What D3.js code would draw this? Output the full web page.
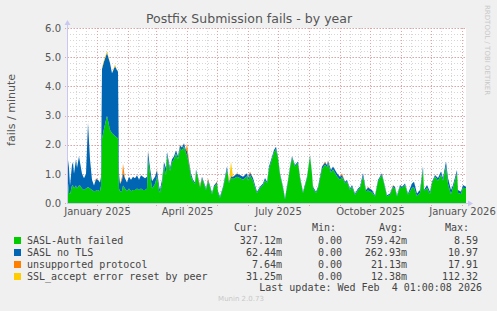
<!DOCTYPE html>
<html>
<head>
<meta charset="utf-8">
<script src="https://cdn.jsdelivr.net/npm/d3@7"></script>
<style>
  body { margin: 0; background: #f0f0f0; }
  svg { display: block; }
</style>
</head>
<body>
<div id="chart"></div>
<script>
// days since the first sample (2 Dec 2024)
var dayIndex = [0,2,3,5,6,7,9,10,12,13,15,17,19,21,23,25,27,29,31,33,34,35,37,40,43,45,48,50,51,52,
  53,55,56,58,60,62,64,66,68,70,72,74,76,78,80,81,83,85,88,90,92,93,95,97,99,100,103,105,107,109,
  111,113,115,117,119,120,122,124,126,128,129,131,133,135,137,139,141,143,145,147,150,151,153,156,160,162,164,166,170,173,
  176,180,181,183,186,188,190,193,196,198,200,202,205,207,209,211,213,216,218,221,223,225,228,231,233,236,240,243,245,246,
  249,251,255,258,260,261,264,266,270,273,275,278,280,283,285,288,291,293,296,299,301,305,308,311,315,316,320,323,326,328,
  330,333,335,338,341,345,347,350,353,356,357,360,363,365,368,371,374,376,379,381,384,386,390,391,394,396,399];

var saslAuth = [1.0,0.35,0.3,0.6,0.6,0.5,0.6,0.5,0.6,0.6,0.5,0.45,0.5,0.55,0.5,0.45,0.4,0.42,0.45,0.4,0.6,2.2,2.55,3.0,2.5,2.4,2.3,2.25,2.2,0.5,
  0.4,0.4,0.6,0.5,0.4,0.5,0.4,0.45,0.45,0.5,0.45,0.5,0.45,0.45,0.5,1.52,1.0,0.5,0.65,0.92,0.45,0.35,0.65,1.3,0.95,1.65,1.1,1.4,1.5,1.7,
  1.5,1.87,1.8,1.95,1.7,1.65,1.3,0.9,0.75,0.65,1.1,0.85,0.52,0.85,0.65,0.45,0.75,0.55,0.3,0.55,0.67,0.35,0.17,0.51,1.15,0.68,0.87,0.82,0.9,0.86,
  0.8,0.92,0.76,0.95,0.76,0.54,0.34,0.51,0.62,0.78,0.68,1.17,1.51,1.74,1.85,1.51,0.97,0.51,0.12,0.74,1.2,1.55,1.25,1.37,0.85,0.34,0.85,1.6,0.97,0.51,
  0.34,0.51,1.17,1.31,1.22,1.36,1.05,1.15,0.92,0.8,0.89,0.68,0.74,0.45,0.57,0.28,0.45,0.51,0.92,0.4,0.43,0.37,0.22,0.74,0.97,0.81,0.22,0.28,0.54,0.51,
  0.22,0.57,0.51,0.62,0.28,0.52,0.53,0.23,0.35,1.15,0.4,0.52,0.31,0.68,0.91,0.76,0.98,0.76,1.27,0.66,0.3,0.52,1.03,0.35,0.31,0.52,0.51];

var noTls = [0.75,0.85,0.3,0.7,0.8,0.5,0.9,0.7,1.0,0.8,0.5,0.4,0.5,2.2,1.0,0.35,0.2,0.4,0.35,0.3,0.3,2.4,2.3,2.15,2.3,2.05,2.4,2.3,2.3,0.5,
  0.25,0.4,0.45,0.35,0.3,0.4,0.4,0.45,0.4,0.45,0.35,0.45,0.45,0.4,0.4,0.25,0.2,0.25,0.25,0.2,0.15,0.1,0.15,0.1,0.25,0.1,0.1,0.1,0.1,0.1,
  0.1,0.1,0.1,0.1,0.1,0.15,0.1,0.1,0.05,0.05,0.05,0.05,0.05,0.05,0.05,0.05,0.05,0.05,0.05,0.05,0.05,0.05,0.05,0.05,0.1,0.05,0.05,0.08,0.1,0.1,
  0.1,0.1,0.1,0.1,0.1,0.08,0.05,0.05,0.05,0.08,0.05,0.08,0.08,0.08,0.08,0.08,0.05,0.05,0.05,0.05,0.05,0.05,0.05,0.05,0.05,0.05,0.05,0.05,0.05,0.05,
  0.05,0.05,0.08,0.08,0.08,0.08,0.08,0.1,0.1,0.1,0.08,0.05,0.05,0.05,0.05,0.05,0.05,0.05,0.1,0.05,0.1,0.08,0.05,0.05,0.05,0.05,0.05,0.05,0.05,0.05,
  0.05,0.05,0.05,0.05,0.05,0.15,0.2,0.1,0.1,0.1,0.05,0.1,0.08,0.05,0.05,0.1,0.1,0.1,0.15,0.2,0.15,0.1,0.1,0.1,0.08,0.1,0.05];

var unsupported = [0,0,0,0,0,0,0,0,0,0,0,0,0,0,0,0,0,0.03,0,0,0,0,0,0,0,0,0,0,0,0,
  0,0.1,0.3,0,0,0,0,0,0,0,0,0,0,0,0,0.03,0,0,0,0.03,0,0,0,0,0,0,0,0,0,0,
  0,0.03,0,0,0,0.25,0.05,0,0,0,0,0,0.05,0,0,0,0.05,0,0,0,0.03,0,0,0,0,0,0,0,0.02,0,
  0,0,0,0.03,0,0,0,0,0,0,0,0,0,0,0,0,0,0,0,0,0,0,0,0,0,0,0,0,0,0,
  0,0,0,0.03,0,0.03,0,0,0,0,0.05,0,0,0,0,0,0,0,0,0,0.03,0,0,0,0,0,0,0,0.03,0,
  0,0,0,0,0,0,0,0,0,0,0,0,0,0,0,0,0,0,0,0,0,0,0,0,0,0,0];

var sslReset = [0,0,0,0,0,0,0,0,0,0,0,0,0,0,0,0,0,0,0,0,0,0.05,0.05,0.05,0,0,0.05,0,0,0,
  0,0,0,0,0,0,0,0,0,0,0,0,0,0,0,0,0,0,0,0,0,0,0,0,0,0,0,0,0,0,
  0,0,0,0,0,0,0,0,0,0,0,0,0,0,0,0,0,0,0,0,0,0,0,0,0,0,0.5,0,0,0,
  0,0,0,0,0,0,0,0,0,0,0,0,0,0,0,0,0,0,0,0,0,0,0,0,0,0,0,0,0,0,
  0,0,0,0,0,0,0,0,0,0,0,0,0,0,0,0,0,0,0,0,0,0,0,0,0,0,0,0,0,0,
  0,0,0,0,0,0,0,0,0,0,0,0,0,0,0,0,0,0,0,0,0,0,0,0,0,0,0];

var seriesNames = ['SASL-Auth failed', 'SASL no TLS', 'unsupported protocol', 'SSL_accept error reset by peer'];
var seriesColors = ['#00cc00', '#0066b3', '#ff8000', '#ffcc00'];
var curValues = ['327.12m', '62.44m', '7.64m', '31.25m'];
var minValues = ['0.00', '0.00', '0.00', '0.00'];
var avgValues = ['759.42m', '262.93m', '21.13m', '12.38m'];
var maxValues = ['8.59', '10.97', '17.91', '112.32'];
var yTicks = [0, 1, 2, 3, 4, 5, 6];

var width = 497, height = 311;
var plotL = 67, plotR = 466, plotT = 28, plotB = 203;
var start = new Date(2024, 11, 2);
var end = d3.timeDay.offset(start, 399);

var svg = d3.select('#chart').append('svg')
  .attr('width', width)
  .attr('height', height)
  .style('background', '#f0f0f0');

var x = d3.scaleTime().domain([start, end]).range([plotL, plotR]);
var y = d3.scaleLinear().domain([0, 6]).range([plotB, plotT]);

svg.append('rect')
  .attr('x', plotL).attr('y', plotT)
  .attr('width', plotR - plotL).attr('height', plotB - plotT)
  .attr('fill', '#ffffff');

// minor grid
var minorDays = [];
d3.timeMonth.range(d3.timeMonth.floor(start), end).forEach(function(m) {
  [11, 21].forEach(function(dd) { minorDays.push(new Date(m.getFullYear(), m.getMonth(), dd)); });
});
minorDays = minorDays.filter(function(d) { return d > start && d < end; });

svg.append('g').selectAll('line').data(minorDays)
  .enter().append('line')
    .attr('x1', function(d) { return Math.round(x(d)) + 0.5; })
    .attr('x2', function(d) { return Math.round(x(d)) + 0.5; })
    .attr('y1', plotT).attr('y2', plotB)
    .attr('stroke', '#d6d6d6')
    .attr('stroke-dasharray', '1,2');

svg.append('g').selectAll('line').data(d3.range(0, 6.01, 0.2))
  .enter().append('line')
    .attr('x1', plotL).attr('x2', plotR)
    .attr('y1', function(d) { return Math.round(y(d)) + 0.5; })
    .attr('y2', function(d) { return Math.round(y(d)) + 0.5; })
    .attr('stroke', '#d6d6d6')
    .attr('stroke-dasharray', '1,2');

// major grid
var months = d3.timeMonth.range(d3.timeMonth.ceil(start), end);
svg.append('g').selectAll('line').data(months)
  .enter().append('line')
    .attr('x1', function(d) { return Math.round(x(d)) + 0.5; })
    .attr('x2', function(d) { return Math.round(x(d)) + 0.5; })
    .attr('y1', plotT).attr('y2', plotB + 3)
    .attr('stroke', '#e8a0a0')
    .attr('stroke-dasharray', '1,2');

svg.append('g').selectAll('line').data(yTicks)
  .enter().append('line')
    .attr('x1', plotL - 2).attr('x2', plotR)
    .attr('y1', function(d) { return Math.round(y(d)) + 0.5; })
    .attr('y2', function(d) { return Math.round(y(d)) + 0.5; })
    .attr('stroke', '#e8a0a0')
    .attr('stroke-dasharray', '1,2');

// stacked areas
var rows = dayIndex.map(function(d, i) {
  return { date: d3.timeDay.offset(start, d), s0: saslAuth[i], s1: noTls[i], s2: unsupported[i], s3: sslReset[i] };
});
var stack = d3.stack().keys(['s0', 's1', 's2', 's3']);
var layers = stack(rows);

var area = d3.area()
  .x(function(d) { return x(d.data.date); })
  .y0(function(d) { return y(d[0]); })
  .y1(function(d) { return y(d[1]); });

svg.append('g').selectAll('path').data(layers)
  .enter().append('path')
    .attr('d', area)
    .attr('fill', function(d, i) { return seriesColors[i]; });

// axes
svg.append('line')
  .attr('x1', plotL + 0.5).attr('x2', plotL + 0.5)
  .attr('y1', plotB).attr('y2', plotT - 5)
  .attr('stroke', '#c8c8f0');
svg.append('path')
  .attr('d', 'M' + (plotL - 2.5) + ',' + (plotT - 3) + 'L' + (plotL + 0.5) + ',' + (plotT - 8) + 'L' + (plotL + 3.5) + ',' + (plotT - 3) + 'Z')
  .attr('fill', '#c8c8f0');
svg.append('line')
  .attr('x1', plotL).attr('x2', plotR + 4)
  .attr('y1', plotB + 0.5).attr('y2', plotB + 0.5)
  .attr('stroke', '#c8c8f0');
svg.append('path')
  .attr('d', 'M' + (plotR + 2) + ',' + (plotB - 2.5) + 'L' + (plotR + 7) + ',' + (plotB + 0.5) + 'L' + (plotR + 2) + ',' + (plotB + 3.5) + 'Z')
  .attr('fill', '#c8c8f0');

var xAxis = d3.axisBottom(x)
  .tickValues([new Date(2025, 0, 1), new Date(2025, 3, 1), new Date(2025, 6, 1), new Date(2025, 9, 1), new Date(2026, 0, 1)])
  .tickFormat(d3.timeFormat('%B %Y'))
  .tickSize(0)
  .tickPadding(5);

svg.append('g')
  .attr('transform', 'translate(0,' + plotB + ')')
  .call(xAxis)
  .call(function(g) {
    g.select('.domain').remove();
    g.selectAll('text')
      .attr('fill', '#555')
      .style('font-family', 'DejaVu Sans')
      .style('font-size', '10px');
  });

var yAxis = d3.axisLeft(y)
  .tickValues(yTicks)
  .tickFormat(d3.format('.1f'))
  .tickSize(0)
  .tickPadding(6);

svg.append('g')
  .attr('transform', 'translate(' + plotL + ',0)')
  .call(yAxis)
  .call(function(g) {
    g.select('.domain').remove();
    g.selectAll('text')
      .attr('fill', '#555')
      .style('font-family', 'DejaVu Sans')
      .style('font-size', '10px');
  });

// titles
svg.append('text')
  .attr('x', 249).attr('y', 23)
  .attr('text-anchor', 'middle')
  .style('font-family', 'DejaVu Sans')
  .style('font-size', '12.5px')
  .attr('fill', '#555')
  .text('Postfix Submission fails - by year');

svg.append('text')
  .attr('transform', 'translate(15,110) rotate(-90)')
  .attr('text-anchor', 'middle')
  .style('font-family', 'DejaVu Sans')
  .style('font-size', '11px')
  .attr('fill', '#555')
  .text('fails / minute');

svg.append('text')
  .attr('transform', 'translate(485,5) rotate(90)')
  .attr('text-anchor', 'start')
  .style('font-family', 'DejaVu Sans')
  .style('font-size', '7px')
  .attr('fill', '#c8c8c8')
  .text('RRDTOOL / TOBI OETIKER');

// legend
var mono = 'DejaVu Sans Mono';
var legend = svg.append('g')
  .style('font-family', mono)
  .style('font-size', '10px')
  .attr('fill', '#444');

[['Cur:', 258], ['Min:', 336], ['Avg:', 403], ['Max:', 469]].forEach(function(h) {
  legend.append('text').attr('x', h[1]).attr('y', 231)
    .attr('text-anchor', 'end').text(h[0]);
});

var rowG = legend.selectAll('g.row').data(seriesNames)
  .enter().append('g')
    .attr('transform', function(d, i) { return 'translate(0,' + (244 + i * 12) + ')'; });

rowG.append('rect')
  .attr('x', 14).attr('y', -7)
  .attr('width', 7).attr('height', 7)
  .attr('fill', function(d, i) { return seriesColors[i]; });
rowG.append('text').attr('x', 27).text(function(d) { return d; });
rowG.append('text').attr('x', 282).attr('text-anchor', 'end').text(function(d, i) { return curValues[i]; });
rowG.append('text').attr('x', 342).attr('text-anchor', 'end').text(function(d, i) { return minValues[i]; });
rowG.append('text').attr('x', 407).attr('text-anchor', 'end').text(function(d, i) { return avgValues[i]; });
rowG.append('text').attr('x', 478).attr('text-anchor', 'end').text(function(d, i) { return maxValues[i]; });

legend.append('text')
  .attr('x', 482).attr('y', 291)
  .attr('text-anchor', 'end')
  .style('white-space', 'pre')
  .text('Last update: Wed Feb  4 01:00:08 2026');

svg.append('text')
  .attr('x', 241).attr('y', 301)
  .attr('text-anchor', 'middle')
  .style('font-family', 'DejaVu Sans')
  .style('font-size', '7px')
  .attr('fill', '#c8c8c8')
  .text('Munin 2.0.73');
</script>
</body>
</html>
